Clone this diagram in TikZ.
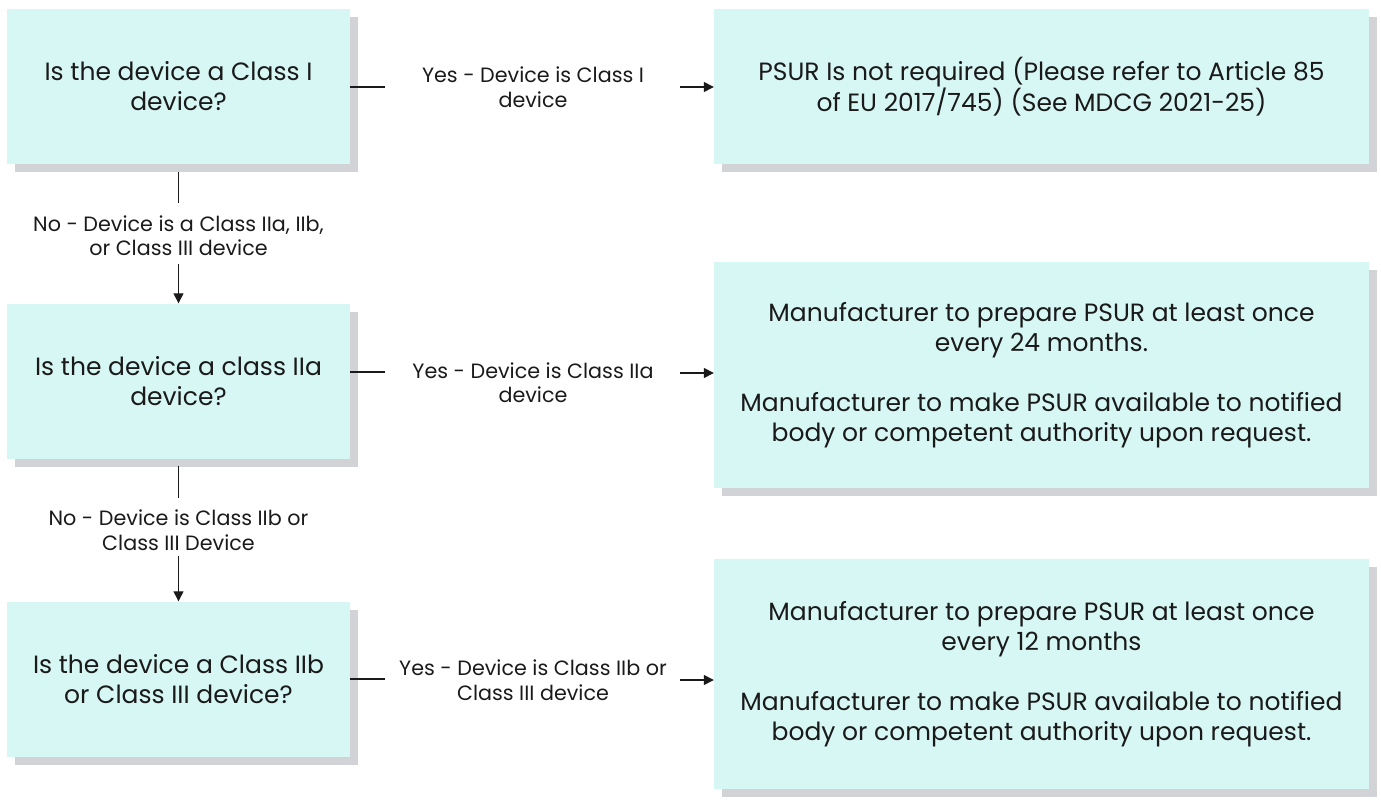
\documentclass[tikz,border=0pt]{standalone}
\usepackage{fontspec}
\setmainfont{Poppins}
\usetikzlibrary{arrows.meta,shadows}
\definecolor{boxfill}{HTML}{D7F7F4}
\definecolor{shade}{HTML}{D2D3D7}
\definecolor{ink}{HTML}{1A1A1A}
\begin{document}
\begin{tikzpicture}[x=1pt,y=-1pt,
  qbox/.style={fill=boxfill, draw=none, text=ink, align=center,
    font=\fontsize{25}{30}\selectfont, inner sep=0pt,
    drop shadow={shadow xshift=8pt, shadow yshift=-8pt, fill=shade, opacity=1}},
  leftbox/.style={qbox, minimum width=343pt, minimum height=155pt},
  rightbox/.style={qbox, minimum width=655pt},
  lbl/.style={text=ink, align=center, font=\fontsize{20.7}{24.5}\selectfont, inner sep=0pt},
  conn/.style={draw=ink, line width=1.3pt},
  arr/.style={conn, -{Triangle[length=10pt,width=10pt]}}]
\useasboundingbox (0,0) rectangle (1381,800);

% question boxes
\node[leftbox] (b1) at (178.5,86.5) {Is the device a Class I\\device?};
\node[leftbox] (b2) at (178.5,381) {Is the device a class IIa\\device?};
\node[leftbox] (b3) at (178.5,679) {Is the device a Class IIb\\or Class III device?};

% outcome boxes
\node[rightbox, minimum height=155pt] (r1) at (1041.5,86.5)
  {PSUR Is not required (Please refer to Article 85\\of EU 2017/745) (See MDCG 2021-25)};
\node[rightbox, minimum height=226pt] (r2) at (1041.5,375)
  {Manufacturer to prepare PSUR at least once\\every 24 months.\\[30pt]Manufacturer to make PSUR available to notified\\body or competent authority upon request.};
\node[rightbox, minimum height=230pt] (r3) at (1041.5,674)
  {Manufacturer to prepare PSUR at least once\\every 12 months\\[30pt]Manufacturer to make PSUR available to notified\\body or competent authority upon request.};

% yes labels
\node[lbl] (y1) at (533,87) {Yes - Device is Class I\\device};
\node[lbl] (y2) at (533,382.5) {Yes - Device is Class IIa\\device};
\node[lbl] (y3) at (533,680) {Yes - Device is Class IIb or\\Class III device};

% no labels
\node[lbl] (n1) at (178.5,235.5) {No - Device is a Class IIa, IIb,\\or Class III device};
\node[lbl] (n2) at (178.5,530) {No - Device is Class IIb or\\Class III Device};

% connector ends
\coordinate (y1a) at (385,87);   \coordinate (y1b) at (680,87);
\coordinate (y2a) at (385,372);  \coordinate (y2b) at (680,373);
\coordinate (y3a) at (385,679);  \coordinate (y3b) at (680,680);
\coordinate (n1a) at (178.5,172); \coordinate (n1b) at (178.5,203);
\coordinate (n1c) at (178.5,264);
\coordinate (n2a) at (178.5,466); \coordinate (n2b) at (178.5,498);
\coordinate (n2c) at (178.5,556);

% horizontal connectors
\draw[conn] (b1.east |- y1a) -- (y1a);
\draw[arr] (y1b) -- (r1.west |- y1b);
\draw[conn] (b2.east |- y2a) -- (y2a);
\draw[arr] (y2b) -- (r2.west |- y2b);
\draw[conn] (b3.east |- y3a) -- (y3a);
\draw[arr] (y3b) -- (r3.west |- y3b);

% vertical connectors
\draw[conn] (n1a) -- (n1b);
\draw[arr] (n1c) -- (b2.north);
\draw[conn] (n2a) -- (n2b);
\draw[arr] (n2c) -- (b3.north);
\end{tikzpicture}
\end{document}
